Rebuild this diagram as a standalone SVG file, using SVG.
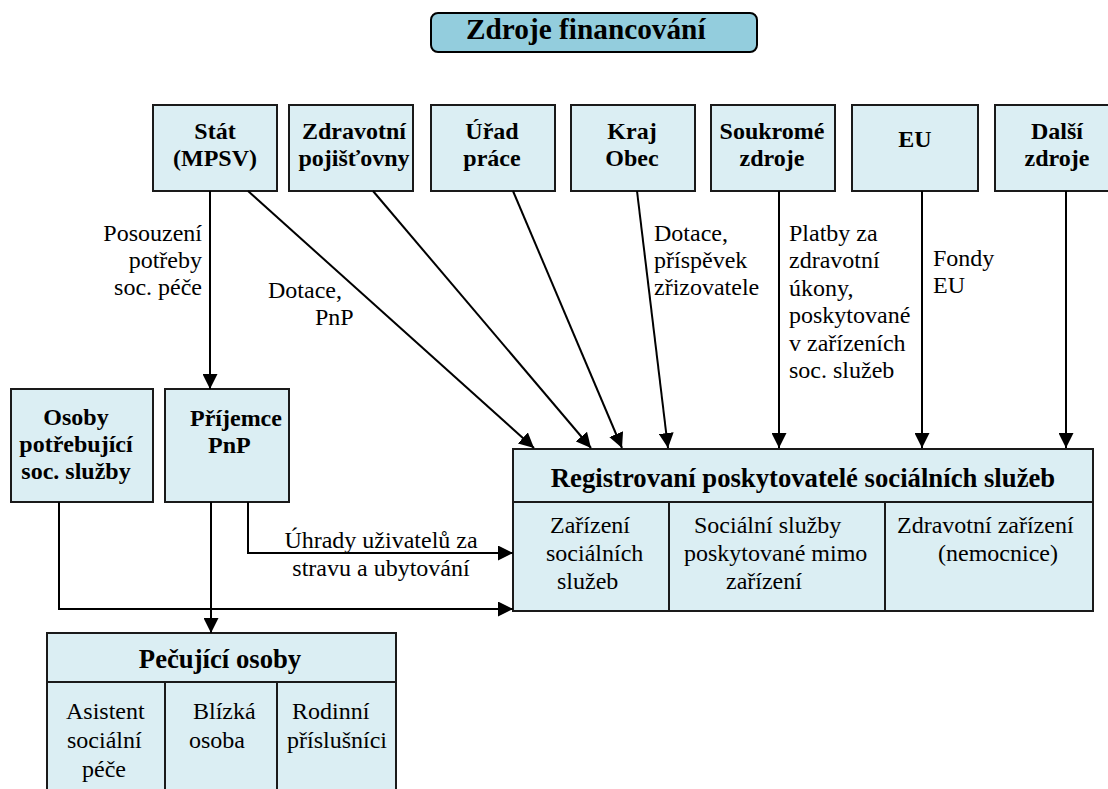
<svg xmlns="http://www.w3.org/2000/svg" width="1108" height="789" viewBox="0 0 1108 789">
<defs>
<style>
.box{fill:#DBEEF3;stroke:#1a1a1a;stroke-width:2}
.div{stroke:#1a1a1a;stroke-width:2;fill:none}
.t{font-family:'Liberation Serif','Times New Roman',Tinos,'Noto Serif','DejaVu Serif',serif;font-size:24px;fill:#000}
.b{font-weight:bold}
.h{font-family:'Liberation Serif','Times New Roman',Tinos,'Noto Serif','DejaVu Serif',serif;font-size:26.7px;font-weight:bold;fill:#000}
.ti{font-family:'Liberation Serif','Times New Roman',Tinos,'Noto Serif','DejaVu Serif',serif;font-size:29.3px;font-weight:bold;fill:#000}
.c{stroke:#000;stroke-width:2;fill:none;marker-end:url(#ah)}
.m{text-anchor:middle}
.e{text-anchor:end}
</style>
<marker id="ah" markerUnits="userSpaceOnUse" markerWidth="16" markerHeight="15" refX="15" refY="7.5" orient="auto">
<path d="M0,0 L15,7.5 L0,15 z" fill="#000"/>
</marker>
</defs>
<rect width="1108" height="789" fill="#fff"/>

<g id="title">
<rect x="431" y="13" width="326" height="39" rx="7" fill="#93CDDD" stroke="#000" stroke-width="2"/>
<text class="ti" x="466" y="39">Zdroje financování</text>
</g>

<g id="stat"><rect class="box" x="153" y="105" width="124" height="86"/>
<text class="t b m" x="215" y="139">Stát</text><text class="t b m" x="215" y="166">(MPSV)</text></g>
<g id="zdravotni"><rect class="box" x="289" y="105" width="124" height="86"/>
<text class="t b m" x="354" y="139">Zdravotní</text><text class="t b m" x="354" y="166">pojišťovny</text></g>
<g id="urad"><rect class="box" x="431" y="105" width="124" height="86"/>
<text class="t b m" x="492" y="139">Úřad</text><text class="t b m" x="492" y="166">práce</text></g>
<g id="kraj"><rect class="box" x="571" y="105" width="124" height="86"/>
<text class="t b m" x="632" y="139">Kraj</text><text class="t b m" x="632" y="166">Obec</text></g>
<g id="soukrome"><rect class="box" x="711" y="105" width="124" height="86"/>
<text class="t b m" x="772" y="139">Soukromé</text><text class="t b m" x="772" y="166">zdroje</text></g>
<g id="eu"><rect class="box" x="852" y="105" width="126" height="86"/>
<text class="t b m" x="915" y="147">EU</text></g>
<g id="dalsi"><rect class="box" x="995" y="105" width="126" height="86"/>
<text class="t b m" x="1057" y="139">Další</text><text class="t b m" x="1057" y="166">zdroje</text></g>

<g id="osoby"><rect class="box" x="11" y="389" width="142" height="113"/>
<text class="t b m" x="76" y="425">Osoby</text><text class="t b m" x="76" y="452">potřebující</text><text class="t b m" x="76" y="479">soc. služby</text></g>
<g id="prijemce"><rect class="box" x="165" y="389" width="124" height="113"/>
<text class="t b" x="190" y="426">Příjemce</text><text class="t b" x="208" y="453">PnP</text></g>

<g id="registrovani">
<rect class="box" x="513" y="449" width="580" height="162"/>
<line class="div" x1="513" y1="502" x2="1093" y2="502"/>
<line class="div" x1="669" y1="502" x2="669" y2="611"/>
<line class="div" x1="885" y1="502" x2="885" y2="611"/>
<text class="h m" x="803" y="487">Registrovaní poskytovatelé sociálních služeb</text>
<text class="t" x="550" y="533">Zařízení</text>
<text class="t" x="546" y="561">sociálních</text>
<text class="t" x="557" y="589">služeb</text>
<text class="t" x="694" y="533">Sociální služby</text>
<text class="t" x="684" y="561">poskytované mimo</text>
<text class="t" x="726" y="589">zařízení</text>
<text class="t" x="897" y="533">Zdravotní zařízení</text>
<text class="t" x="938" y="561">(nemocnice)</text>
</g>

<g id="pecujici">
<rect class="box" x="47" y="633" width="349" height="170"/>
<line class="div" x1="47" y1="682" x2="396" y2="682"/>
<line class="div" x1="165" y1="682" x2="165" y2="803"/>
<line class="div" x1="277" y1="682" x2="277" y2="803"/>
<text class="h m" x="220" y="668">Pečující osoby</text>
<text class="t" x="66" y="719">Asistent</text>
<text class="t" x="67" y="748">sociální</text>
<text class="t" x="82" y="777">péče</text>
<text class="t" x="193" y="719">Blízká</text>
<text class="t" x="189" y="748">osoba</text>
<text class="t" x="292" y="719">Rodinní</text>
<text class="t" x="287" y="748">příslušníci</text>
</g>

<g id="connectors">
<line class="c" x1="210" y1="191" x2="210" y2="389"/>
<line class="c" x1="248" y1="191" x2="534" y2="448"/>
<line class="c" x1="373" y1="191" x2="591" y2="448"/>
<line class="c" x1="513" y1="191" x2="622" y2="448"/>
<line class="c" x1="637" y1="191" x2="668" y2="448"/>
<line class="c" x1="779" y1="191" x2="779" y2="448"/>
<line class="c" x1="922" y1="191" x2="922" y2="448"/>
<line class="c" x1="1066" y1="191" x2="1066" y2="448"/>
<polyline class="c" points="59,502 59,609 513,609"/>
<polyline class="c" points="248,502 248,553 513,553"/>
<line class="c" x1="211" y1="502" x2="211" y2="633"/>
</g>

<g id="labels">
<text class="t e" x="202" y="241">Posouzení</text>
<text class="t e" x="202" y="268">potřeby</text>
<text class="t e" x="202" y="295">soc. péče</text>
<text class="t" x="268" y="298">Dotace,</text>
<text class="t" x="315" y="325">PnP</text>
<text class="t" x="654" y="241">Dotace,</text>
<text class="t" x="654" y="268">příspěvek</text>
<text class="t" x="654" y="295">zřizovatele</text>
<text class="t" x="789" y="241">Platby za</text>
<text class="t" x="789" y="268">zdravotní</text>
<text class="t" x="789" y="296">úkony,</text>
<text class="t" x="789" y="323">poskytované</text>
<text class="t" x="789" y="351">v zařízeních</text>
<text class="t" x="789" y="378">soc. služeb</text>
<text class="t" x="933" y="266">Fondy</text>
<text class="t" x="933" y="293">EU</text>
<text class="t m" x="381" y="548">Úhrady uživatelů za</text>
<text class="t m" x="381" y="576">stravu a ubytování</text>
</g>
</svg>
